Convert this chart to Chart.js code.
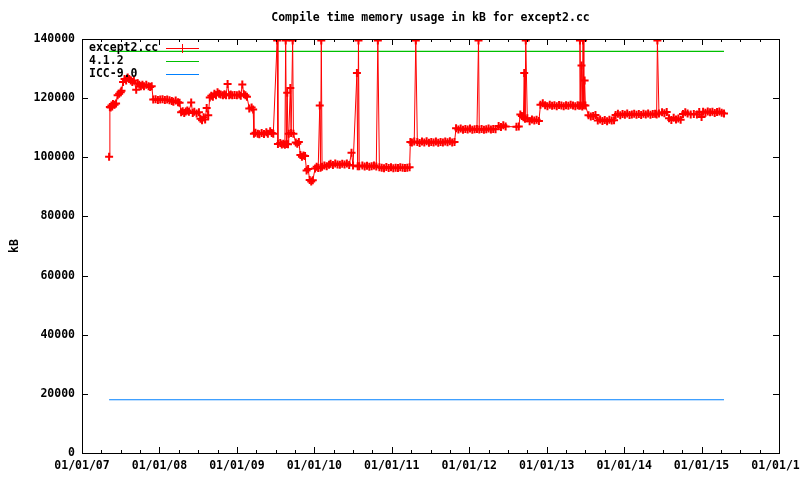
<!DOCTYPE html>
<html>
<head>
<meta charset="utf-8">
<title>Compile time memory usage</title>
<script src="https://cdn.jsdelivr.net/npm/chart.js@4/dist/chart.umd.min.js"></script>
<style>
  html, body { margin: 0; padding: 0; background: #fff; }
  #wrap { width: 800px; height: 480px; }
</style>
</head>
<body>
<div id="wrap"><canvas id="memChart" width="800" height="480"></canvas></div>
<script>
// Data (dates as decimal years, memory in kB)
const titleText = 'Compile time memory usage in kB for except2.cc';
const seriesNames = ['except2.cc', '4.1.2', 'ICC-9.0'];
const yearTicks = [2007, 2008, 2009, 2010, 2011, 2012, 2013, 2014, 2015, 2016];
const kbTicks = [0, 20000, 40000, 60000, 80000, 100000, 120000, 140000];

const except2Samples = [
  [2007.35, 100200], [2007.36, 117000], [2007.37, 116800], [2007.38, 117500], [2007.39, 117200],
  [2007.40, 118000], [2007.42, 117800], [2007.44, 118200], [2007.46, 121000], [2007.48, 121500],
  [2007.50, 122000], [2007.51, 122500], [2007.53, 125500], [2007.55, 126500], [2007.57, 126000],
  [2007.59, 127000], [2007.61, 126500], [2007.63, 126000], [2007.65, 125500], [2007.67, 126000],
  [2007.70, 122800], [2007.72, 125000], [2007.74, 124500], [2007.76, 124000], [2007.78, 124500],
  [2007.80, 124000], [2007.83, 124500], [2007.86, 124000], [2007.88, 123800], [2007.90, 124000],
  [2007.92, 119500], [2007.95, 119600], [2007.98, 119400], [2008.01, 119500], [2008.04, 119600],
  [2008.07, 119400], [2008.10, 119500], [2008.13, 119300], [2008.16, 119000], [2008.18, 118800],
  [2008.21, 119200], [2008.24, 118600], [2008.26, 118400], [2008.28, 115200], [2008.30, 115600],
  [2008.32, 115000], [2008.34, 115500], [2008.36, 115800], [2008.38, 115400], [2008.41, 118500],
  [2008.43, 115000], [2008.45, 115400], [2008.48, 114800], [2008.51, 115200], [2008.53, 113000],
  [2008.55, 112500], [2008.57, 113500], [2008.59, 112800], [2008.61, 116700], [2008.63, 114200],
  [2008.65, 120200], [2008.67, 120800], [2008.69, 120500], [2008.71, 121500], [2008.73, 121000],
  [2008.75, 122000], [2008.77, 121500], [2008.79, 121200], [2008.82, 121000], [2008.84, 121300],
  [2008.86, 121000], [2008.88, 124800], [2008.90, 121000], [2008.92, 121200], [2008.94, 121000],
  [2008.97, 121100], [2009.00, 121000], [2009.03, 121200], [2009.05, 120800], [2009.07, 124600],
  [2009.09, 121300], [2009.11, 121000], [2009.13, 120500], [2009.16, 116500], [2009.19, 116800],
  [2009.21, 116200], [2009.22, 108000], [2009.24, 108300], [2009.27, 108000], [2009.29, 107800],
  [2009.32, 108200], [2009.35, 107900], [2009.38, 108500], [2009.40, 108000], [2009.43, 108800],
  [2009.45, 108200], [2009.47, 108000], [2009.52, 139500], [2009.53, 104500], [2009.56, 104800],
  [2009.58, 104300], [2009.60, 104600], [2009.62, 104200], [2009.63, 139500], [2009.64, 104500],
  [2009.65, 121800], [2009.66, 104400], [2009.67, 108000], [2009.69, 123400], [2009.70, 108200],
  [2009.72, 139500], [2009.73, 108000], [2009.76, 105000], [2009.78, 104600], [2009.80, 105200],
  [2009.82, 100800], [2009.84, 100200], [2009.86, 100600], [2009.88, 100400], [2009.90, 95500],
  [2009.92, 96000], [2009.94, 92300], [2009.96, 91800], [2009.98, 92200], [2010.01, 96200],
  [2010.03, 96800], [2010.05, 96400], [2010.07, 117500], [2010.08, 96500], [2010.09, 139500],
  [2010.10, 96800], [2010.13, 97200], [2010.16, 97000], [2010.19, 97500], [2010.21, 97800],
  [2010.24, 97400], [2010.27, 97900], [2010.30, 97600], [2010.33, 97500], [2010.36, 97800],
  [2010.39, 97600], [2010.42, 97900], [2010.45, 97400], [2010.48, 101500], [2010.50, 97200],
  [2010.55, 128500], [2010.56, 97000], [2010.57, 139500], [2010.58, 97000], [2010.62, 97200],
  [2010.65, 96900], [2010.68, 97100], [2010.71, 96800], [2010.74, 97000], [2010.77, 97200],
  [2010.80, 96900], [2010.82, 139500], [2010.84, 96600], [2010.87, 96500], [2010.90, 96300],
  [2010.93, 96700], [2010.96, 96400], [2010.99, 96600], [2011.02, 96300], [2011.05, 96500],
  [2011.08, 96400], [2011.11, 96600], [2011.14, 96500], [2011.17, 96400], [2011.20, 96500],
  [2011.23, 96600], [2011.24, 105200], [2011.26, 105000], [2011.29, 105300], [2011.31, 139500],
  [2011.33, 105200], [2011.36, 104800], [2011.39, 105300], [2011.42, 105000], [2011.45, 105400],
  [2011.48, 104900], [2011.51, 105200], [2011.54, 105000], [2011.57, 105300], [2011.60, 104900],
  [2011.63, 105200], [2011.66, 105000], [2011.69, 105300], [2011.72, 105100], [2011.75, 105400],
  [2011.78, 105000], [2011.81, 105200], [2011.83, 109800], [2011.86, 109400], [2011.89, 109700],
  [2011.92, 109300], [2011.95, 109600], [2011.98, 109400], [2012.01, 109700], [2012.04, 109300],
  [2012.07, 109500], [2012.10, 109600], [2012.12, 139500], [2012.13, 109400], [2012.16, 109600],
  [2012.19, 109300], [2012.22, 109500], [2012.25, 109700], [2012.28, 109400], [2012.31, 109600],
  [2012.34, 109500], [2012.38, 110600], [2012.41, 110200], [2012.44, 110800], [2012.47, 110400],
  [2012.61, 110300], [2012.64, 110400], [2012.66, 114500], [2012.68, 114000], [2012.70, 113500],
  [2012.71, 128500], [2012.72, 113000], [2012.73, 139500], [2012.75, 113200], [2012.78, 112200],
  [2012.81, 112800], [2012.84, 112400], [2012.87, 112700], [2012.90, 112300], [2012.92, 117800],
  [2012.95, 118300], [2012.98, 117600], [2013.01, 117300], [2013.04, 117800], [2013.07, 117400],
  [2013.10, 117600], [2013.13, 117300], [2013.16, 117700], [2013.19, 117500], [2013.22, 117300],
  [2013.25, 117600], [2013.28, 117400], [2013.31, 117800], [2013.34, 117500], [2013.37, 117300],
  [2013.40, 117600], [2013.42, 117400], [2013.43, 139500], [2013.44, 117500], [2013.45, 131000],
  [2013.46, 117200], [2013.47, 139500], [2013.48, 117600], [2013.49, 126000], [2013.50, 117500],
  [2013.54, 114200], [2013.57, 113800], [2013.60, 114000], [2013.63, 114300], [2013.66, 112400],
  [2013.69, 112800], [2013.72, 112300], [2013.75, 112600], [2013.78, 112200], [2013.81, 112700],
  [2013.84, 112400], [2013.87, 112500], [2013.89, 114300], [2013.92, 114700], [2013.95, 114200],
  [2013.98, 114600], [2014.01, 114400], [2014.04, 114800], [2014.07, 114300], [2014.10, 114500],
  [2014.13, 114700], [2014.16, 114400], [2014.19, 114600], [2014.22, 114300], [2014.25, 114700],
  [2014.28, 114500], [2014.31, 114800], [2014.34, 114400], [2014.37, 114600], [2014.40, 114700],
  [2014.42, 114500], [2014.43, 139500], [2014.45, 114800], [2014.49, 115200], [2014.52, 114900],
  [2014.55, 115300], [2014.58, 113200], [2014.61, 112600], [2014.64, 113400], [2014.67, 112800],
  [2014.70, 113100], [2014.73, 112700], [2014.76, 114600], [2014.79, 115200], [2014.82, 114800],
  [2014.86, 114500], [2014.90, 114600], [2014.94, 114500], [2014.97, 115300], [2015.00, 113600],
  [2015.02, 115400], [2015.05, 115100], [2015.08, 115500], [2015.11, 115200], [2015.14, 115400],
  [2015.17, 115000], [2015.20, 115300], [2015.23, 115500], [2015.26, 115100], [2015.29, 114800]
];
const gcc412Samples = [[2007.35, 135800], [2015.29, 135800]];
const icc90Samples = [[2007.35, 18000], [2015.29, 18000]];

const FONT = 'DejaVu Sans Mono';
const colors = ['#ff0000', '#00c000', '#0080ff'];

function toPoints(samples) {
  return samples.map(s => ({ x: s[0], y: s[1] }));
}

// gnuplot-like frame, inward ticks, title and key
const gnuplotLook = {
  id: 'gnuplotLook',
  afterDraw(chart) {
    const { ctx, chartArea: a, scales: { x, y } } = chart;
    ctx.save();
    ctx.strokeStyle = '#000';
    ctx.lineWidth = 1;
    ctx.strokeRect(a.left + 0.5, a.top + 0.5, a.right - a.left, a.bottom - a.top);
    ctx.beginPath();
    for (let i = 0; i < yearTicks.length; i++) {
      for (let q = 0; q < 4; q++) {
        const v = yearTicks[i] + q * 0.25;
        if (v > yearTicks[yearTicks.length - 1]) break;
        const px = Math.round(x.getPixelForValue(v)) + 0.5;
        const len = q === 0 ? 6 : 3;
        ctx.moveTo(px, a.bottom); ctx.lineTo(px, a.bottom - len);
        ctx.moveTo(px, a.top); ctx.lineTo(px, a.top + len);
      }
    }
    kbTicks.forEach(v => {
      const py = Math.round(y.getPixelForValue(v)) + 0.5;
      ctx.moveTo(a.left, py); ctx.lineTo(a.left + 6, py);
      ctx.moveTo(a.right, py); ctx.lineTo(a.right - 6, py);
    });
    ctx.stroke();

    ctx.fillStyle = '#000';
    ctx.font = 'bold 11.5px "' + FONT + '"';
    ctx.textBaseline = 'middle';
    ctx.textAlign = 'center';
    ctx.fillText(titleText, (a.left + a.right) / 2, 18);

    // key
    ctx.textAlign = 'left';
    seriesNames.forEach((name, i) => {
      const ky = 48 + i * 13;
      ctx.fillStyle = '#000';
      ctx.fillText(name, 89, ky);
      ctx.strokeStyle = colors[i];
      ctx.beginPath();
      ctx.moveTo(166, ky + 0.5); ctx.lineTo(199, ky + 0.5);
      if (i === 0) { ctx.moveTo(182.5, ky - 4); ctx.lineTo(182.5, ky + 5); }
      ctx.stroke();
    });
    ctx.restore();
  }
};

new Chart(document.getElementById('memChart').getContext('2d'), {
  type: 'line',
  data: {
    datasets: [{
      label: seriesNames[0],
      data: toPoints(except2Samples),
      borderColor: colors[0],
      borderWidth: 1,
      pointStyle: 'cross',
      pointRadius: 4,
      pointBorderWidth: 2,
      pointBorderColor: colors[0],
      tension: 0
    }, {
      label: seriesNames[1],
      data: toPoints(gcc412Samples),
      borderColor: colors[1],
      borderWidth: 1.2,
      pointRadius: 0
    }, {
      label: seriesNames[2],
      data: toPoints(icc90Samples),
      borderColor: colors[2],
      borderWidth: 1.2,
      pointRadius: 0
    }]
  },
  options: {
    responsive: false,
    animation: false,
    events: [],
    layout: { padding: { top: 39, right: 21, left: 0, bottom: 0 } },
    plugins: { legend: { display: false }, title: { display: false }, tooltip: { enabled: false } },
    scales: {
      x: {
        type: 'linear',
        min: 2007,
        max: 2016,
        grid: { display: false, drawTicks: false },
        border: { display: false },
        afterBuildTicks: s => { s.ticks = yearTicks.map(v => ({ value: v })); },
        afterFit: s => { s.height = 27; s.paddingLeft = 0; s.paddingRight = 0; },
        ticks: {
          autoSkip: false,
          maxRotation: 0,
          padding: 6,
          color: '#000',
          font: { family: FONT, size: 11.5, weight: 'bold' },
          callback: v => '01/01/' + String(v).slice(2)
        }
      },
      y: {
        min: 0,
        max: 140000,
        grid: { display: false, drawTicks: false },
        border: { display: false },
        afterBuildTicks: s => { s.ticks = kbTicks.map(v => ({ value: v })); },
        afterFit: s => { s.width = 82; s.paddingTop = 0; s.paddingBottom = 0; },
        ticks: {
          padding: 7,
          color: '#000',
          font: { family: FONT, size: 11.5, weight: 'bold' },
          callback: v => String(v)
        },
        title: {
          display: true,
          text: 'kB',
          color: '#000',
          padding: { top: 8, bottom: 0 },
          font: { family: FONT, size: 11.5, weight: 'bold' }
        }
      }
    }
  },
  plugins: [gnuplotLook]
});
</script>
</body>
</html>
